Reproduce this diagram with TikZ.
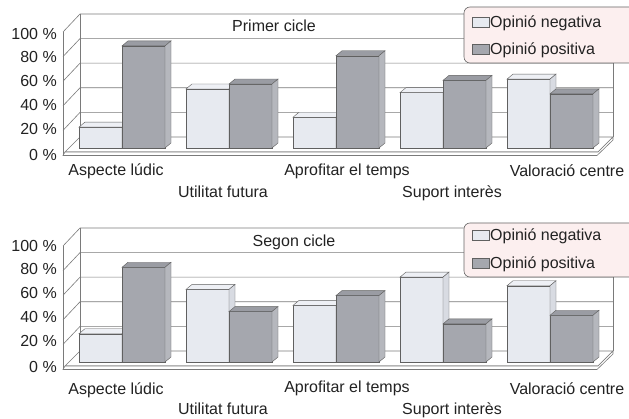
\documentclass[tikz,border=0pt]{standalone}
\usepackage{fontspec}
\setmainfont{Liberation Sans}
\definecolor{negf}{HTML}{E7EAF0}
\definecolor{negt}{HTML}{EEF0F5}
\definecolor{negs}{HTML}{D8DBE2}
\definecolor{posf}{HTML}{A5A7AE}
\definecolor{post}{HTML}{9A9CA3}
\definecolor{poss}{HTML}{B5B7BD}
\definecolor{legfill}{HTML}{FCEFEF}
\definecolor{gridc}{HTML}{7A7A7A}
\definecolor{txt}{HTML}{222222}
\tikzset{
  gridline/.style={draw=gridc, line width=0.6pt},
  barline/.style={draw=gray!75!black, line width=0.4pt},
  lbl/.style={text=txt, inner sep=0pt},
  ylbl/.style={lbl, anchor=east},
  legbox/.style={draw=gray!80!black, fill=legfill, rounded corners=6pt, line width=0.6pt},
}
\newcommand\drawbar[5]{% x, value, front, top, side
  \pgfmathsetmacro\hh{148-1.23*#2}
  \filldraw[barline, fill=#3] (#1,148) rectangle ({#1+43},\hh);
  \filldraw[barline, fill=#4] (#1,\hh) -- ({#1+6},{\hh-5}) -- ({#1+49},{\hh-5}) -- ({#1+43},\hh) -- cycle;
  \filldraw[barline, fill=#5] ({#1+43},148) -- ({#1+43},\hh) -- ({#1+49},{\hh-5}) -- ({#1+49},143) -- cycle;
}
\newcommand\chartframe{%
  \fill[white] (80,14) rectangle (613,137);
  \foreach \k in {1,...,5} {
    \pgfmathsetmacro\yy{137-24.6*\k}
    \draw[gridline] (63,{\yy+18}) -- (80,\yy) -- (613,\yy);
  }
  \draw[gridline] (63,32) -- (63,155);
  \draw[gridline] (80,14) -- (80,137);
  \draw[gridline] (613,14) -- (613,137);
  \filldraw[gridline, fill=white] (80,137) -- (613,137) -- (598,152) -- (65,152) -- cycle;
  \filldraw[gridline, fill=white] (65,152) -- (598,152) -- (613,137) -- (613,140) -- (597,155.5) -- (63,155.5) -- cycle;
}
\newcommand\chartbars[1]{%
  \foreach \n/\p [count=\i from 0] in {#1} {
    \pgfmathsetmacro\sx{79+107*\i}
    \drawbar{\sx}{\n}{negf}{negt}{negs}
    \drawbar{\sx+43}{\p}{posf}{post}{poss}
  }
}
\begin{document}
\begin{tikzpicture}[x=1pt, y=-1pt, font=\fontsize{16}{19}\selectfont]
\useasboundingbox (0,0) rectangle (629,419);
\fill[white] (0,0) rectangle (629,419);

% ---------- first chart ----------
\chartframe
\chartbars{17/83,48/52,25/75,45/55,56/44}
\node[lbl] (t1) at (274,26) {Primer cicle};
\node[ylbl] (a100) at (57,34) {100 \%};
\node[ylbl] (a80) at (57,57) {80 \%};
\node[ylbl] (a60) at (57,81) {60 \%};
\node[ylbl] (a40) at (57,105) {40 \%};
\node[ylbl] (a20) at (57,129) {20 \%};
\node[ylbl] (a0) at (57,155) {0 \%};
\node[lbl] (c1) at (116,171) {Aspecte lúdic};
\node[lbl] (c2) at (223,192) {Utilitat futura};
\node[lbl] (c3) at (347,171) {Aprofitar el temps};
\node[lbl] (c4) at (452,193) {Suport interès};
\node[lbl] (c5) at (567,171) {Valoració centre};
\draw[legbox] (464,7) rectangle (640,63);
\filldraw[barline, fill=negf] (472,17) rectangle (489,27);
\filldraw[barline, fill=posf] (472,44) rectangle (489,54);
\node[lbl, anchor=west] (l1) at (490,23) {Opinió negativa};
\node[lbl, anchor=west] (l2) at (490,50) {Opinió positiva};

% ---------- second chart ----------
\begin{scope}[shift={(0,214)}]
\chartframe
\chartbars{23/77,59/41,46/54,69/31,62/38}
\end{scope}
\node[lbl] (t2) at (294,242) {Segon cicle};
\node[ylbl] (b100) at (57,246) {100 \%};
\node[ylbl] (b80) at (57,269) {80 \%};
\node[ylbl] (b60) at (57,293) {60 \%};
\node[ylbl] (b40) at (57,317) {40 \%};
\node[ylbl] (b20) at (57,341) {20 \%};
\node[ylbl] (b0) at (57,367) {0 \%};
\node[lbl] (d1) at (116,390) {Aspecte lúdic};
\node[lbl] (d2) at (223,409) {Utilitat futura};
\node[lbl] (d3) at (347,388) {Aprofitar el temps};
\node[lbl] (d4) at (452,410) {Suport interès};
\node[lbl] (d5) at (567,389) {Valoració centre};
\draw[legbox] (464,223) rectangle (640,277);
\filldraw[barline, fill=negf] (472,230) rectangle (489,240);
\filldraw[barline, fill=posf] (472,258) rectangle (489,268);
\node[lbl, anchor=west] (m1) at (490,236) {Opinió negativa};
\node[lbl, anchor=west] (m2) at (490,264) {Opinió positiva};
\end{tikzpicture}
\end{document}
